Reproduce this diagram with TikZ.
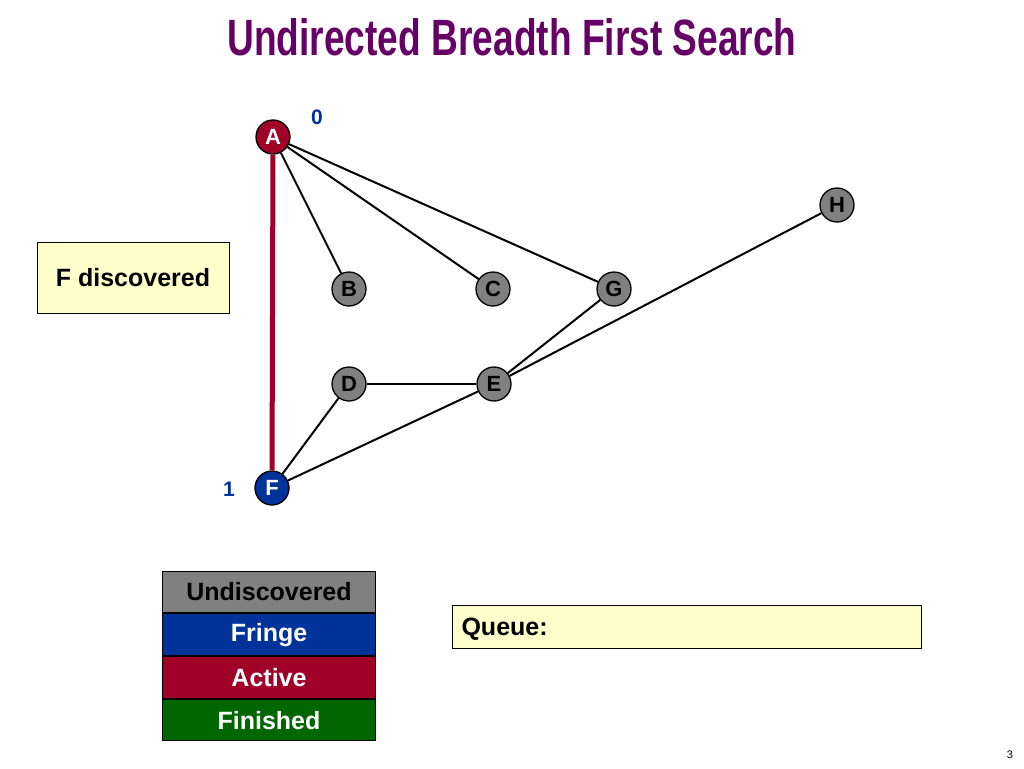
\documentclass[tikz,border=0pt]{standalone}
\usepackage{fontspec}
\setmainfont{Liberation Sans}
\usepackage{graphicx}
\usetikzlibrary{positioning}

\definecolor{titlepurple}{RGB}{102,0,102}
\definecolor{fringeblue}{RGB}{0,51,153}
\definecolor{activered}{RGB}{160,0,40}
\definecolor{finishgreen}{RGB}{0,102,0}
\definecolor{undisgray}{RGB}{128,128,128}
\definecolor{noteyellow}{RGB}{255,255,204}
\definecolor{labelblue}{RGB}{0,51,153}

\tikzset{
	vertex/.style={circle,draw,line width=1.3pt,minimum size=34pt,inner sep=0pt,fill=undisgray,
		font=\bfseries\fontsize{22}{22}\selectfont},
	edge/.style={line width=2pt},
	legendrow/.style={draw,line width=1pt,minimum width=213pt,minimum height=41.7pt,inner sep=0pt,
		font=\bfseries\fontsize{25}{25}\selectfont},
	notebox/.style={draw,line width=1pt,fill=noteyellow,inner sep=0pt,
		font=\bfseries\fontsize{25}{25}\selectfont},
	distlabel/.style={text=labelblue,font=\bfseries\fontsize{21}{21}\selectfont}
}

\begin{document}
\begin{tikzpicture}[x=1pt,y=-1pt]
	\useasboundingbox [fill=white] (0,0) rectangle (1024,768);

	\node [text=titlepurple,anchor=base] (title) at (512,55) {\resizebox{569pt}{37pt}{\bfseries Undirected Breadth First Search}};

	\node [vertex,fill=activered,text=white] (A) at (273,137) {A};
	\node [vertex] (B) at (349,289) {B};
	\node [vertex] (C) at (493,289) {C};
	\node [vertex] (G) at (614,289) {G};
	\node [vertex] (H) at (837,205) {H};
	\node [vertex] (D) at (349,384) {D};
	\node [vertex] (E) at (494,384) {E};
	\node [vertex,fill=fringeblue,text=white] (F) at (272,488) {F};

	\draw [edge] (A) -- (B);
	\draw [edge] (A) -- (C);
	\draw [edge] (A) -- (G);
	\draw [edge] (G) -- (E);
	\draw [edge] (H) -- (E);
	\draw [edge] (D) -- (E);
	\draw [edge] (F) -- (D);
	\draw [edge] (F) -- (E);
	\draw [line width=5pt,activered] (A) -- (F);

	\node [distlabel] (distA) at (317,117) {0};
	\node [distlabel] (distF) at (229,489) {1};

	\node [notebox,minimum width=192pt,minimum height=71pt] (status) at (133,277.5) {F discovered};

	\node [legendrow,fill=undisgray,text=black] (undis) at (269,592) {Undiscovered};
	\node [legendrow,fill=fringeblue,text=white,below=0pt of undis] (fringe) {Fringe};
	\node [legendrow,fill=activered,text=white,below=0pt of fringe] (active) {Active};
	\node [legendrow,fill=finishgreen,text=white,below=0pt of active] (finished) {Finished};

	\node [notebox,minimum width=469pt,minimum height=43pt] (queue) at (686.5,626.5) {};
	\node [anchor=base west,font=\bfseries\fontsize{25}{25}\selectfont] (queuetext) at (458,635) {Queue:};

	\node [font=\fontsize{11}{11}\selectfont] (page) at (1010,755) {3};
\end{tikzpicture}
\end{document}
